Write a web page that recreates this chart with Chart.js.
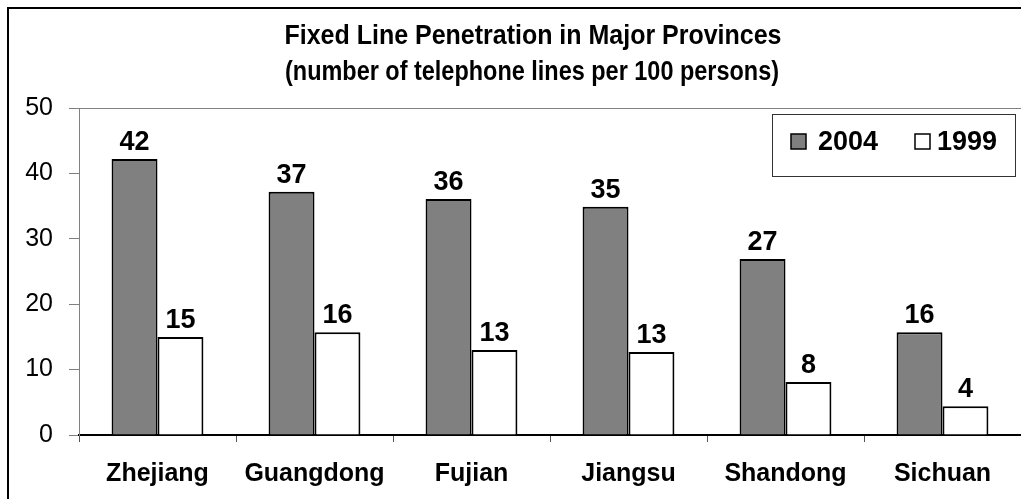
<!DOCTYPE html>
<html>
<head>
<meta charset="utf-8">
<script src="https://cdn.jsdelivr.net/npm/chart.js@4.4.1/dist/chart.umd.min.js"></script>
<style>
  html, body { margin: 0; padding: 0; background: #fff; }
  #wrap { width: 1021px; height: 499px; position: relative; }
</style>
</head>
<body>
<div id="wrap"><canvas id="chart"></canvas></div>
<script>
// Fixed line penetration, lines per 100 persons
const provinces = ['Zhejiang', 'Guangdong', 'Fujian', 'Jiangsu', 'Shandong', 'Sichuan'];
const values2004 = [42.2, 37.2, 36.1, 34.9, 26.9, 15.7];
const values1999 = [15.0, 15.7, 13.0, 12.7, 8.1, 4.4];
const seriesLabels = ['2004', '1999'];
const yTicks = [0, 10, 20, 30, 40, 50];
const titleLines = ['Fixed Line Penetration in Major Provinces', '(number of telephone lines per 100 persons)'];

const FONT = "'Liberation Sans', Arial, sans-serif";

// draws text squeezed horizontally to a given width (the title is condensed)
function condensedText(ctx, text, cx, cy, width) {
  const w = ctx.measureText(text).width;
  const k = Math.min(1, width / w);
  ctx.save();
  ctx.translate(cx, cy);
  ctx.scale(k, 1);
  ctx.fillText(text, 0, 0);
  ctx.restore();
}

// frame, title, plot top line, value labels, legend box
const decorations = {
  id: 'decorations',
  beforeDraw(chart) {
    const { ctx, chartArea } = chart;
    ctx.save();
    ctx.strokeStyle = '#000';
    ctx.lineWidth = 2;
    ctx.beginPath();
    ctx.moveTo(8, chart.height);
    ctx.lineTo(8, 8);
    ctx.lineTo(chart.width, 8);
    ctx.stroke();

    ctx.strokeStyle = '#808080';
    ctx.lineWidth = 1;
    ctx.beginPath();
    ctx.moveTo(chartArea.left, chartArea.top + 0.5);
    ctx.lineTo(chart.width, chartArea.top + 0.5);
    ctx.stroke();

    ctx.fillStyle = '#000';
    ctx.font = 'bold 28px ' + FONT;
    ctx.textAlign = 'center';
    ctx.textBaseline = 'middle';
    condensedText(ctx, titleLines[0], 533, 36, 497);
    condensedText(ctx, titleLines[1], 532, 72, 494);
    ctx.restore();
  },
  afterDatasetsDraw(chart) {
    const { ctx } = chart;
    ctx.save();
    ctx.fillStyle = '#000';
    ctx.font = 'bold 27px ' + FONT;
    ctx.textAlign = 'center';
    ctx.textBaseline = 'alphabetic';
    chart.data.datasets.forEach((ds, i) => {
      chart.getDatasetMeta(i).data.forEach((bar, j) => {
        ctx.fillText(Math.round(ds.data[j]), bar.x, bar.y - 9);
      });
    });

    // legend
    ctx.fillStyle = '#fff';
    ctx.fillRect(772, 114, 243, 62);
    ctx.strokeStyle = '#333';
    ctx.lineWidth = 1;
    ctx.strokeRect(772.5, 114.5, 243, 62);
    const items = [{ x: 791, tx: 818 }, { x: 915, tx: 937 }];
    chart.data.datasets.forEach((ds, i) => {
      const it = items[i];
      ctx.fillStyle = ds.backgroundColor;
      ctx.fillRect(it.x, 134, 15, 15);
      ctx.strokeStyle = '#000';
      ctx.lineWidth = 1.5;
      ctx.strokeRect(it.x, 134, 15, 15);
      ctx.fillStyle = '#000';
      ctx.font = 'bold 27px ' + FONT;
      ctx.textAlign = 'left';
      ctx.textBaseline = 'middle';
      ctx.fillText(ds.label, it.tx, 143);
    });
    ctx.restore();
  }
};

new Chart(document.getElementById('chart'), {
  type: 'bar',
  data: {
    labels: provinces,
    datasets: [
      {
        label: seriesLabels[0],
        data: values2004,
        backgroundColor: '#808080',
        borderColor: '#000',
        borderWidth: 2,
        categoryPercentage: 0.585,
        barPercentage: 1.0
      },
      {
        label: seriesLabels[1],
        data: values1999,
        backgroundColor: '#ffffff',
        borderColor: '#000',
        borderWidth: 2,
        categoryPercentage: 0.585,
        barPercentage: 1.0
      }
    ]
  },
  options: {
    responsive: true,
    maintainAspectRatio: false,
    animation: false,
    layout: { padding: { top: 108, left: 0, right: 0, bottom: 0 } },
    plugins: {
      legend: { display: false },
      title: { display: false },
      tooltip: { enabled: false }
    },
    scales: {
      x: {
        afterFit(scale) { scale.height = 64; },
        grid: {
          display: true,
          offset: true,
          drawOnChartArea: false,
          tickLength: 7,
          color: '#555'
        },
        border: { color: '#000', width: 2 },
        ticks: {
          color: '#000',
          padding: 17,
          font: { family: FONT, size: 25, weight: 'bold' }
        }
      },
      y: {
        min: 0,
        max: 50,
        afterFit(scale) { scale.width = 79; },
        afterBuildTicks(scale) { scale.ticks = yTicks.map(v => ({ value: v })); },
        grid: {
          display: true,
          drawOnChartArea: false,
          tickLength: 10,
          color: '#808080'
        },
        border: { color: '#808080', width: 1 },
        ticks: {
          color: '#000',
          padding: 16,
          font: { family: FONT, size: 25 }
        }
      }
    }
  },
  plugins: [decorations]
});
</script>
</body>
</html>
